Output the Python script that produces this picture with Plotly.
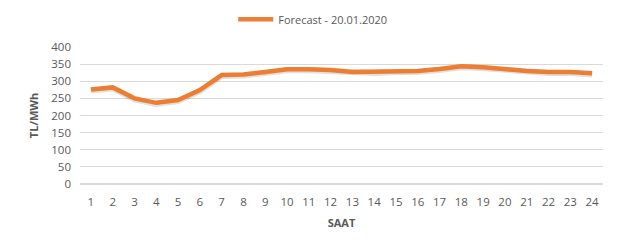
import plotly.graph_objects as go

hours = [str(i) for i in range(1, 25)]
forecast = [276, 282, 250, 237, 245, 274, 318, 320, 327, 335, 335, 333,
            327, 327, 330, 330, 336, 344, 341, 335, 330, 327, 327, 323]
y_ticks = [0, 50, 100, 150, 200, 250, 300, 350, 400]
series_name = "Forecast - 20.01.2020"

fig = go.Figure()
# soft shadow under the line
fig.add_trace(go.Scatter(x=hours, y=[v - 3 for v in forecast], mode="lines",
                         line=dict(color="rgba(0,0,0,0.12)", width=6),
                         showlegend=False, hoverinfo="skip"))
fig.add_trace(go.Scatter(x=hours, y=forecast, mode="lines", name=series_name,
                         line=dict(color="#ED7D31", width=4.5)))

font = "Open Sans, Liberation Sans, sans-serif"
fig.update_layout(
    width=630, height=240,
    margin=dict(l=80, r=27, t=47, b=56, autoexpand=False),
    paper_bgcolor="white", plot_bgcolor="white",
    font=dict(family=font, size=11, color="#595959"),
    showlegend=True,
    legend=dict(orientation="h", x=0.445, xanchor="center", y=0.98, yanchor="top",
                yref="container", font=dict(size=11, color="#595959"), itemwidth=35),
    xaxis=dict(type="category", range=[-0.5, 23.5], showgrid=False, automargin=False,
               showline=False, ticks="", tickfont=dict(size=11.5, color="#595959"),
               ticklabelstandoff=9,
               title=dict(text="<b>SAAT</b>", font=dict(size=11, color="#595959"), standoff=11)),
    yaxis=dict(range=[0, 400], tickvals=y_ticks, showgrid=True, gridcolor="#D9D9D9",
               gridwidth=1, zeroline=True, zerolinecolor="#D9D9D9", showline=False,
               automargin=False,
               ticks="", tickfont=dict(size=11.5, color="#595959"), ticklabelstandoff=8,
               title=dict(text="<b>TL/MWh</b>", font=dict(size=11, color="#595959"), standoff=10)),
)

fig.write_html("out.html")
